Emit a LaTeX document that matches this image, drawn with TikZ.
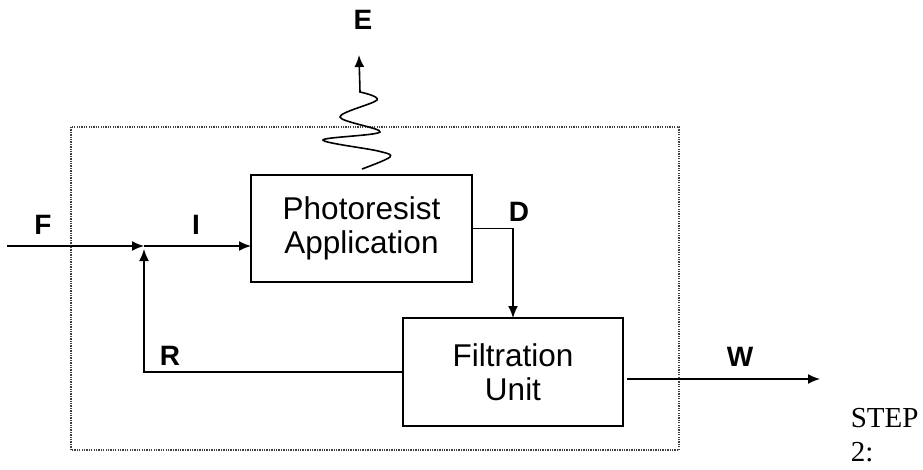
\documentclass[tikz,border=0pt]{standalone}
\usepackage{fontspec}
\setmainfont{Liberation Sans}
\newfontfamily\serifnt{Liberation Serif}
\usetikzlibrary{arrows.meta,calc}
\begin{document}
\begin{tikzpicture}[x=1pt,y=-1pt,
  line width=1.6pt,
  arr/.style={-{Latex[length=12pt,width=10pt]}},
  procbox/.style={draw, inner sep=0pt, outer sep=0pt, align=center,
    font=\fontsize{31.5}{34}\selectfont},
  lbl/.style={font=\fontsize{28}{30}\selectfont\bfseries, inner sep=0pt},
  steplbl/.style={font=\serifnt\fontsize{29}{34}\selectfont, anchor=base west, inner sep=0pt},
  boundary/.style={draw=black!75, line width=1.3pt, dash pattern=on 1.3pt off 1.1pt}]
\useasboundingbox (0,0) rectangle (923,469);
\draw[boundary] (71,127) rectangle (679,450);
\node[procbox, minimum width=221pt, minimum height=107pt] (pa) at (361.5,228.5) {Photoresist\\Application};
\node[procbox, minimum width=220pt, minimum height=108pt] (fu) at (513,372) {Filtration\\Unit};
\coordinate (fin) at (7,246);
\coordinate (j) at (144,246);
\coordinate (jb) at (144,249);
\coordinate (wend) at (820,379);
\coordinate (etip) at (359,55);
\draw[arr] (fin) -- (j);
\draw[arr] (j) -- (j -| pa.west);
\draw[arr] (fu.west) -| (jb);
\draw[arr] (pa.east) -| (fu.north);
\draw[arr] ($(fu.east)+(4,7)$) -- (wend);
\draw[arr] plot[smooth, tension=0.55] coordinates {(362,169) (390,157) (378,151) (323,140) (380,132) (340,117) (377,100) (360,92)} -- (etip);
\node[lbl] (flab) at (43,225) {F};
\node[lbl] (ilab) at (196,225) {I};
\node[lbl] (dlab) at (519,212) {D};
\node[lbl] (rlab) at (170,356) {R};
\node[lbl] (wlab) at (740,357) {W};
\node[lbl] (elab) at (363,20) {E};
\node[steplbl] (step1) at (850,427) {STEP};
\node[steplbl] (step2) at (850,461) {2:};
\end{tikzpicture}
\end{document}
